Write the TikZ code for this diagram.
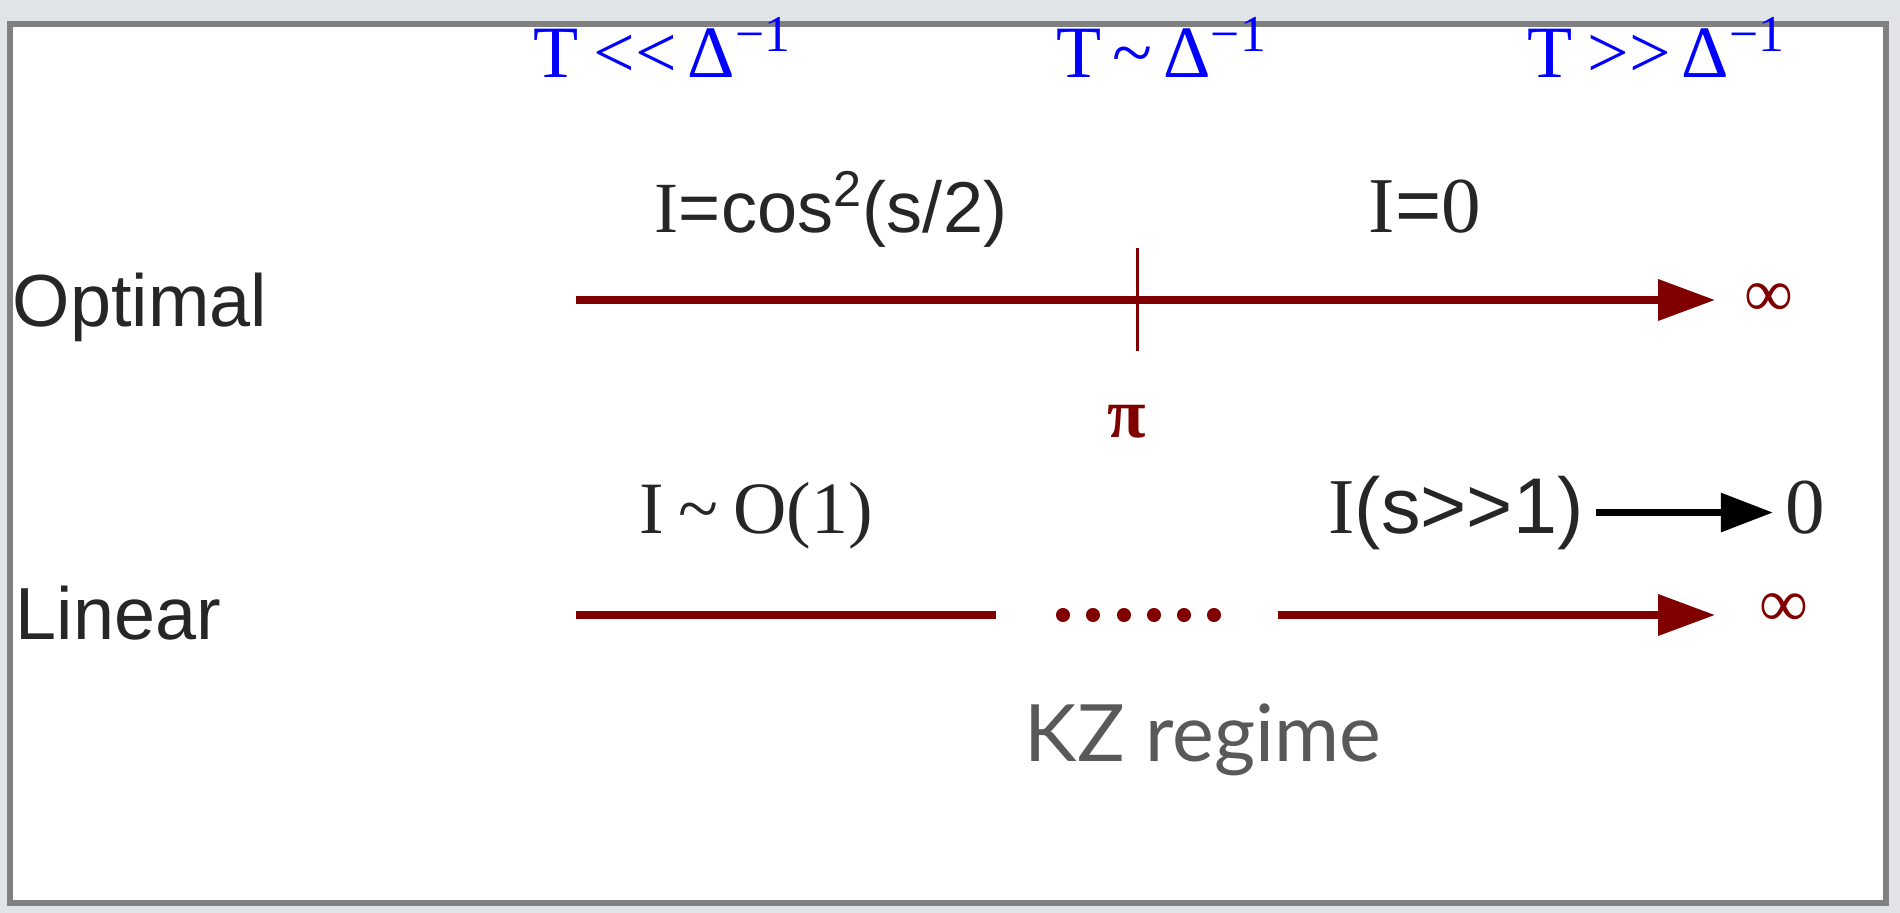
\documentclass[tikz,border=0pt]{standalone}
\usepackage{fontspec}
\setmainfont{Liberation Serif}
\newfontfamily\arialfont{Liberation Sans}
\newfontfamily\kzfont{Lato}
\usetikzlibrary{arrows.meta}
\definecolor{axisred}{HTML}{800000}
\definecolor{regimeblue}{HTML}{0000FF}
\definecolor{framebg}{HTML}{E1E4E7}
\newcommand{\invgap}{Δ\textsuperscript{\char"2212 1}}

\begin{document}
\begin{tikzpicture}[
    axis/.style={axisred, line width=2pt},
    regime/.style={regimeblue, font=\fontsize{21}{24}\selectfont, anchor=base},
    formula/.style={black!85, font=\fontsize{21}{24}\selectfont, anchor=base},
    rowlabel/.style={black!85, font=\arialfont\fontsize{21}{24}\selectfont, anchor=base west, inner sep=0pt},
    endlabel/.style={axisred, font=\fontsize{19.5}{22}\selectfont},
]
    \useasboundingbox (0,0) rectangle (19,-9.13);
    % frame
    \fill[framebg] (0,0) rectangle (19,-9.13);
    \draw[gray, line width=1.5pt, fill=white] (0.10,-0.24) rectangle (18.86,-9.03);

    % regimes on top
    \node[regime] (fast) at (6.63,-0.78) {T\hspace{0.2em}<{}<\hspace{0.15em}\invgap};
    \node[regime] (mid) at (11.62,-0.78) {T\hspace{0.15em}\char"007E\hspace{0.15em}\invgap};
    \node[regime] (slow) at (16.57,-0.78) {T\hspace{0.2em}>{}>\hspace{0.15em}\invgap};

    % optimal row
    \node[rowlabel] (optimal) at (0.12,-3.27) {Optimal};
    \node[formula, font=\fontsize{20.5}{24}\selectfont] (cosform) at (8.31,-2.33) {I{\arialfont =cos\textsuperscript{2}(s/2)}};
    \node[formula, font=\fontsize{22.5}{24}\selectfont] (zeroform) at (14.25,-2.33) {I{\arialfont =}0};
    \coordinate (optstart) at (5.76,-3.00);
    \coordinate (optend) at (17.15,-3.00);
    \draw[axis, -{Triangle[length=0.57cm, width=0.40cm]}] (optstart) -- (optend);
    \draw[axisred, line width=0.85pt] (11.37,-2.48) -- (11.37,-3.51);
    \node[endlabel] (optinf) at (17.69,-3.00) {∞};
    \node[endlabel, font=\bfseries\fontsize{20}{22}\selectfont] (pi) at (11.27,-4.22) {π};

    % linear row
    \node[rowlabel] (linear) at (0.15,-6.40) {Linear};
    \node[formula] (order) at (7.56,-5.33) {I\hspace{0.2em}\char"007E\hspace{0.2em}O(1)};
    \node[formula, font=\fontsize{22.5}{24}\selectfont] (sbig) at (14.56,-5.33) {I{\arialfont (s>>1)}};
    \node[formula, font=\fontsize{22.5}{24}\selectfont] (zero) at (18.05,-5.33) {0};
    \draw[black, line width=1.8pt, -{Triangle[length=0.52cm, width=0.38cm]}] (sbig.east) -- (sbig.east -| zero.west);
    \coordinate (linstart) at (5.76,-6.15);
    \coordinate (linbreak) at (9.96,-6.15);
    \coordinate (linresume) at (12.78,-6.15);
    \coordinate (linend) at (17.15,-6.15);
    \draw[axis] (linstart) -- (linbreak);
    \foreach \x in {10.63,10.93,11.24,11.54,11.84,12.14}
        \fill[axisred] (\x,-6.15) circle (2pt);
    \draw[axis, -{Triangle[length=0.57cm, width=0.40cm]}] (linresume) -- (linend);
    \node[endlabel] (lininf) at (17.84,-6.10) {∞};
    \node[anchor=base, text=black!65, font=\kzfont\fontsize{22.5}{26}\selectfont] (kz) at (12.03,-7.61) {KZ regime};
\end{tikzpicture}
\end{document}
